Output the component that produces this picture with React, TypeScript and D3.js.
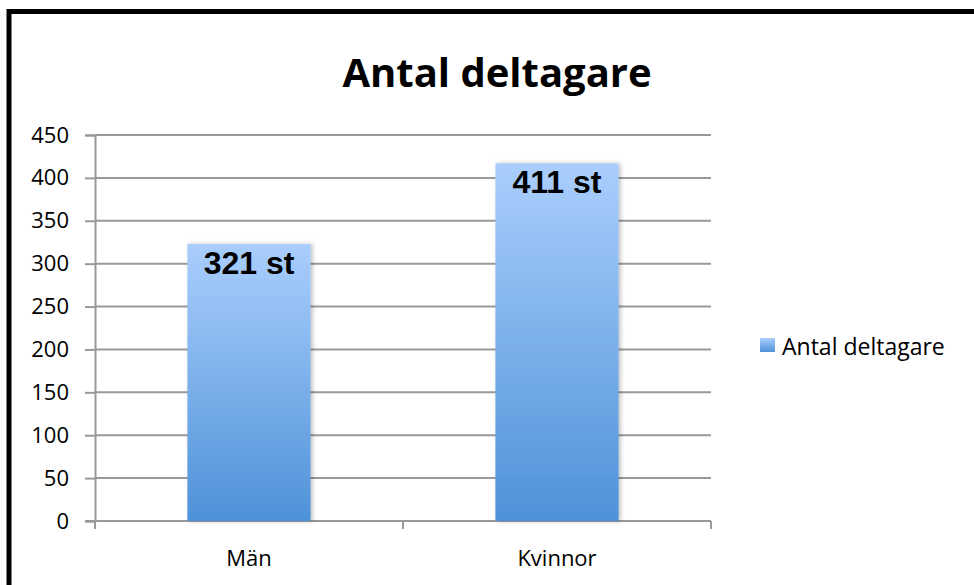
import React, { useEffect, useRef } from 'react';
import * as d3 from 'd3';

const categories = ['Män', 'Kvinnor'];
const values = [323, 417];
const valueLabels = ['321 st', '411 st'];
const yTicks = [0, 50, 100, 150, 200, 250, 300, 350, 400, 450];
const seriesName = 'Antal deltagare';
const title = 'Antal deltagare';

function App() {
  const svgRef = useRef<SVGSVGElement>(null);

  useEffect(() => {
    const svg = d3.select(svgRef.current);
    svg.selectAll('*').remove();

    const left = 95, right = 711, top = 135, bottom = 521;
    const font = '"Open Sans", sans-serif';

    const defs = svg.append('defs');
    const grad = defs.append('linearGradient')
      .attr('id', 'barGrad')
      .attr('x1', 0).attr('y1', 0).attr('x2', 0).attr('y2', 1);
    grad.append('stop').attr('offset', '0%').attr('stop-color', '#aacefd');
    grad.append('stop').attr('offset', '100%').attr('stop-color', '#4e92d8');

    const shadow = defs.append('filter').attr('id', 'barShadow')
      .attr('x', '-10%').attr('y', '-10%').attr('width', '130%').attr('height', '120%');
    shadow.append('feDropShadow')
      .attr('dx', 2).attr('dy', 0).attr('stdDeviation', 2)
      .attr('flood-color', '#000').attr('flood-opacity', 0.25);

    // outer frame
    svg.append('rect')
      .attr('x', 9).attr('y', 11.5)
      .attr('width', 1000).attr('height', 700)
      .attr('fill', 'white')
      .attr('stroke', 'black').attr('stroke-width', 5);

    const x = d3.scaleBand()
      .domain(categories)
      .range([left, right])
      .paddingInner(0.6)
      .paddingOuter(0.3);

    const y = d3.scaleLinear()
      .domain([0, 450])
      .range([bottom, top]);

    // gridlines
    svg.append('g')
      .selectAll('line')
      .data(yTicks.filter(d => d > 0))
      .enter().append('line')
      .attr('x1', left).attr('x2', right)
      .attr('y1', d => y(d)).attr('y2', d => y(d))
      .attr('stroke', '#999').attr('stroke-width', 2);

    // y axis
    const yAxis = svg.append('g')
      .attr('transform', `translate(${left},0)`)
      .call(d3.axisLeft(y).tickValues(yTicks).tickSize(10).tickPadding(16));
    yAxis.select('.domain').attr('stroke', '#999').attr('stroke-width', 2);
    yAxis.selectAll('.tick line').attr('stroke', '#999').attr('stroke-width', 2);
    yAxis.selectAll('.tick text')
      .attr('font-family', font).attr('font-size', 22).attr('fill', '#000');

    // x axis
    const xAxis = svg.append('g')
      .attr('transform', `translate(0,${bottom})`);
    xAxis.append('line')
      .attr('x1', left - 10).attr('x2', right)
      .attr('stroke', '#999').attr('stroke-width', 2);
    const edges = [left, (left + right) / 2, right];
    xAxis.selectAll('.xt')
      .data(edges)
      .enter().append('line')
      .attr('x1', d => d).attr('x2', d => d)
      .attr('y1', 0).attr('y2', 8)
      .attr('stroke', '#999').attr('stroke-width', 2);
    xAxis.selectAll('.xl')
      .data(categories)
      .enter().append('text')
      .attr('x', d => (x(d) ?? 0) + x.bandwidth() / 2)
      .attr('y', 45)
      .attr('text-anchor', 'middle')
      .attr('font-family', font).attr('font-size', 22)
      .text(d => d);

    // bars
    svg.append('g')
      .selectAll('rect')
      .data(values)
      .enter().append('rect')
      .attr('x', (d, i) => x(categories[i]) ?? 0)
      .attr('y', d => y(d))
      .attr('width', x.bandwidth())
      .attr('height', d => bottom - y(d))
      .attr('fill', 'url(#barGrad)')
      .attr('filter', 'url(#barShadow)');

    // data labels
    svg.append('g')
      .selectAll('text')
      .data(values)
      .enter().append('text')
      .attr('x', (d, i) => (x(categories[i]) ?? 0) + x.bandwidth() / 2)
      .attr('y', d => y(d) + 30)
      .attr('text-anchor', 'middle')
      .attr('font-family', '"Liberation Sans", Arial, sans-serif')
      .attr('font-weight', 'bold')
      .attr('font-size', 32)
      .text((d, i) => valueLabels[i]);

    // title
    svg.append('text')
      .attr('x', 497).attr('y', 87)
      .attr('text-anchor', 'middle')
      .attr('font-family', font).attr('font-weight', 'bold')
      .attr('font-size', 40)
      .text(title);

    // legend
    const lg = svg.append('g').attr('transform', 'translate(760,338)');
    lg.append('rect')
      .attr('width', 15).attr('height', 14)
      .attr('fill', 'url(#barGrad)');
    lg.append('text')
      .attr('x', 22).attr('y', 17)
      .attr('font-family', font).attr('font-size', 23)
      .text(seriesName);
  }, []);

  return (
    <svg ref={svgRef} width={974} height={585}
      style={{ position: 'absolute', left: 0, top: 0, display: 'block' }} />
  );
}

export default App;
